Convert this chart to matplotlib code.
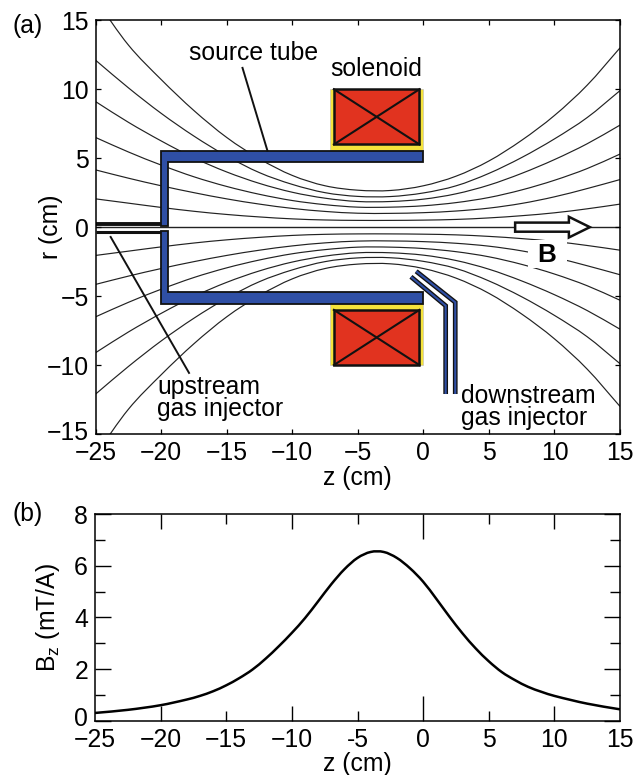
import matplotlib
matplotlib.use('Agg')
import matplotlib.pyplot as plt
import matplotlib.patches as patches
from matplotlib.path import Path
from matplotlib.transforms import ScaledTranslation

plt.rcParams['font.family'] = ['Liberation Sans', 'DejaVu Sans']
plt.rcParams['mathtext.default'] = 'regular'
FS = 17.8
plt.rcParams['font.size'] = FS

# field lines (upper half, the lower half is the mirror)
z_lines = [-25, -22.5, -20, -17.5, -15, -12.5, -10, -7.5, -5, -2.5, 0, 2.5, 5, 7.5, 10, 12.5, 15]
line1 = [16.5, 13.2, 10.7, 8.45, 6.5, 4.95, 3.75, 3.0, 2.68, 2.66, 3.0, 3.7, 4.8, 6.3, 8.1, 10.3, 13.0]
line2 = [12.1, 10.1, 8.25, 6.6, 5.15, 3.95, 3.1, 2.5, 2.23, 2.22, 2.48, 3.0, 3.9, 5.05, 6.4, 7.95, 9.9]
line3 = [9.1, 7.6, 6.25, 5.02, 4.0, 3.17, 2.53, 2.1, 1.86, 1.86, 2.03, 2.42, 3.05, 3.9, 4.9, 6.05, 7.4]
line4 = [6.5, 5.45, 4.5, 3.65, 2.95, 2.38, 1.93, 1.63, 1.45, 1.45, 1.55, 1.78, 2.15, 2.7, 3.4, 4.25, 5.3]
line5 = [4.15, 3.55, 3.0, 2.5, 2.05, 1.67, 1.36, 1.14, 1.01, 1.0, 1.05, 1.17, 1.38, 1.72, 2.2, 2.8, 3.45]
line6 = [2.05, 1.74, 1.43, 1.15, 0.92, 0.74, 0.6, 0.52, 0.49, 0.49, 0.51, 0.56, 0.67, 0.83, 1.04, 1.33, 1.67]
field_lines = [line1, line2, line3, line4, line5, line6]

# on-axis field
z_b = [-25, -22.5, -20, -18, -17, -16, -15, -14, -13, -12, -11, -10, -9, -8, -7, -6, -5, -4, -3, -2, -1, 0, 1, 2, 3, 4, 5, 6, 7, 8, 9, 10, 12.5, 15]
bz = [0.30, 0.42, 0.60, 0.82, 0.96, 1.14, 1.37, 1.65, 1.98, 2.4, 2.88, 3.4, 3.97, 4.62, 5.28, 5.86, 6.3, 6.53, 6.53, 6.3, 5.9, 5.38, 4.72, 4.03, 3.38, 2.8, 2.3, 1.88, 1.57, 1.31, 1.12, 0.96, 0.66, 0.44]

x_ticks = [-25, -20, -15, -10, -5, 0, 5, 10, 15]
x_labels_a = ['\u221225', '\u221220', '\u221215', '\u221210', '\u22125', '0', '5', '10', '15']
x_labels_b = ['\u221225', '\u221220', '\u221215', '\u221210', '-5', '0', '5', '10', '15']
r_ticks = [-15, -10, -5, 0, 5, 10, 15]
r_labels = ['\u221215', '\u221210', '\u22125', '0', '5', '10', '15']
b_ticks = [0, 2, 4, 6, 8]
b_minor = [1, 3, 5, 7]
# tick lengths in panel b (pt), they differ in the original
x_len_b = [0, 10.8, 7.2, 10.8, 7.2, 18, 7.2, 10.8, 0]

BLUE = '#2f4fa5'
RED = '#e1331f'
YELLOW = '#f5e33c'


def smooth_path(xs, ys):
    # Catmull-Rom through the read points, as bezier segments
    verts = [(xs[0], ys[0])]
    codes = [Path.MOVETO]
    n = len(xs)
    for i in range(n - 1):
        i0, i3 = max(i - 1, 0), min(i + 2, n - 1)
        h = xs[i + 1] - xs[i]
        m1 = (ys[i + 1] - ys[i0]) / (xs[i + 1] - xs[i0])
        m2 = (ys[i3] - ys[i]) / (xs[i3] - xs[i])
        verts += [(xs[i] + h / 3, ys[i] + m1 * h / 3),
                  (xs[i + 1] - h / 3, ys[i + 1] - m2 * h / 3),
                  (xs[i + 1], ys[i + 1])]
        codes += [Path.CURVE4] * 3
    return Path(verts, codes)


W, H = 634, 775
fig = plt.figure(figsize=(W / 100, H / 100), dpi=100)
ax = fig.add_axes([95.7 / W, 1 - 434 / H, 524.3 / W, 413.7 / H])
ax2 = fig.add_axes([95.0 / W, 1 - 720.7 / H, 525 / W, 206.7 / H])

# panel a
ax.set_xlim(-25, 15)
ax.set_ylim(-15, 15)
for values in field_lines:
    for sign in (1, -1):
        ys = [sign * v for v in values]
        ax.add_patch(patches.PathPatch(smooth_path(z_lines, ys), fc='none', ec='#222222', lw=0.85, zorder=1))
ax.plot([-25, 15], [0, 0], color='#222222', lw=1.0, zorder=1)

# white box behind B cuts the field lines
ax.add_patch(patches.Rectangle((7.97, -2.96), 2.98, 2.02, fc='white', ec='none', zorder=2))
ax.text(9.42, -2.0, 'B', ha='center', va='center', fontweight='bold', fontsize=FS + 1, zorder=5)

# arrow
ax.add_patch(patches.Polygon([(7, 0.33), (11.1, 0.33), (11.1, 0.75), (12.7, 0), (11.1, -0.75), (11.1, -0.33), (7, -0.33)],
                             closed=True, fc='white', ec='#111111', lw=1.8, zorder=4))

# source tube and solenoid
for s in (1, -1):
    ax.add_patch(patches.Rectangle((-7.13, 5.5 * s), 7.13, 4.5 * s, fc=YELLOW, ec='#bbbbbb', lw=0.4, zorder=3))
    ax.add_patch(patches.Rectangle((-6.83, 6.0 * s), 6.53, 4.0 * s, fc=RED, ec='#111111', lw=1.8, zorder=4))
    ax.plot([-6.83, -0.3], [6.0 * s, 10 * s], color='#111111', lw=1.5, zorder=5)
    ax.plot([-6.83, -0.3], [10 * s, 6.0 * s], color='#111111', lw=1.5, zorder=5)
    tip = 0.1 if s == 1 else 0.25
    tube = [(-20.05, 5.55 * s), (0, 5.55 * s), (0, 4.72 * s), (-19.45, 4.72 * s), (-19.45, tip * s), (-20.05, tip * s)]
    ax.add_patch(patches.Polygon(tube, closed=True, fc=BLUE, ec='#111111', lw=1.3, zorder=4))

# upstream injector walls
ax.plot([-25, -20], [0.25, 0.25], color='#111111', lw=2.8, zorder=3, solid_capstyle='butt')
ax.plot([-25, -20], [-0.38, -0.38], color='#111111', lw=2.2, zorder=3, solid_capstyle='butt')

# downstream injector
for zz, rr in (([2.43, 2.43, -0.55], [-12.1, -5.45, -3.2]), ([1.7, 1.7, -0.95], [-12.1, -5.7, -3.6])):
    ax.plot(zz, rr, color='#111111', lw=3.4, zorder=3, solid_capstyle='butt', solid_joinstyle='miter')
    ax.plot(zz, rr, color=BLUE, lw=1.5, zorder=3, solid_capstyle='butt', solid_joinstyle='miter')

# leaders and labels
ax.plot([-13.8, -11.9], [11.55, 5.55], color='#111111', lw=1.4, zorder=5)
ax.plot([-23.86, -17.88], [-0.71, -10.57], color='#111111', lw=1.4, zorder=5)
ax.text(-17.9, 12.1, 'source tube', va='baseline', zorder=6)
ax.text(-7.1, 10.96, 'solenoid', va='baseline', zorder=6)
ax.text(-20.3, -13.7, 'upstream\ngas injector', va='baseline', linespacing=0.9, zorder=6)
ax.text(2.9, -14.35, 'downstream\ngas injector', va='baseline', linespacing=0.9, zorder=6)

ax.set_xticks(x_ticks, x_labels_a)
ax.set_yticks(r_ticks, r_labels)
ax.tick_params(direction='in', top=True, right=True, length=3.6, width=0.9, labelsize=FS, pad=5)
ax.set_xlabel('z (cm)', fontsize=FS, labelpad=1)
ax.set_ylabel('r (cm)', fontsize=FS)
ax.yaxis.set_label_coords(-0.062, 0.5)

# panel b
ax2.set_xlim(-25, 15)
ax2.set_ylim(0, 8)
ax2.add_patch(patches.PathPatch(smooth_path(z_b, bz), fc='none', ec='black', lw=1.8))
ax2.set_xticks(x_ticks, x_labels_b)
ax2.set_yticks(b_ticks)
ax2.set_yticks(b_minor, minor=True)
ax2.tick_params(which='major', direction='in', top=True, right=True, length=11.5, width=1.0, labelsize=FS, pad=5)
ax2.tick_params(which='minor', direction='in', left=True, right=True, length=7.2, width=1.0)
for tick, ln in zip(ax2.xaxis.get_major_ticks(), x_len_b):
    tick.tick1line.set_markersize(ln)
    tick.tick2line.set_markersize(ln)
ax2.set_xlabel('z (cm)', fontsize=FS, labelpad=0)
ax2.set_ylabel('B$_{z}$ (mT/A)', fontsize=FS)
ax2.yaxis.set_label_coords(-0.062, 0.5)

# the lowest y labels sit a little above their ticks in the original
lift = ScaledTranslation(0, 4 / 100, fig.dpi_scale_trans)
for lab in (ax.get_yticklabels()[0], ax2.get_yticklabels()[0]):
    lab.set_transform(lab.get_transform() + lift)

for a in (ax, ax2):
    for sp in a.spines.values():
        sp.set_linewidth(1.1)
        sp.set_zorder(7)

fig.text(12 / W, 1 - 33 / H, '(a)', fontsize=FS, va='baseline')
fig.text(13 / W, 1 - 521 / H, '(b)', fontsize=FS, va='baseline')

fig.savefig('out.png', dpi=100)
